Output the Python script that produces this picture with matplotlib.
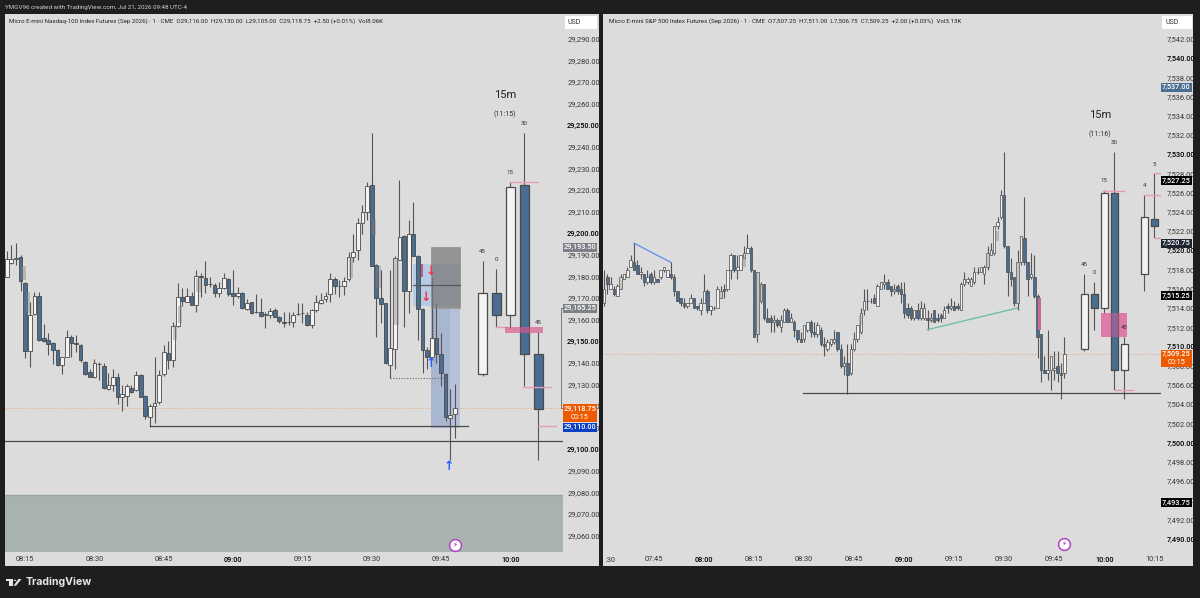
import numpy as np
import matplotlib.pyplot as plt
from matplotlib.patches import Rectangle, Polygon, Circle

W, H = 1200, 598
plt.rcParams['font.family'] = ['Roboto', 'DejaVu Sans']

# minutes since midnight for the first 1m bar of each chart
nq_start = 491
es_start = 450

nq_open = [29179.75, 29186, 29187.75, 29189, 29177, 29145.5, 29162.5, 29171, 29151.25, 29150.25,
           29149, 29146, 29138.75, 29142.5, 29152, 29149, 29148, 29140.5, 29135.5, 29133.25,
           29139.25, 29138.5, 29127.75, 29129.5, 29133.5, 29124, 29124.75, 29128.25, 29127.25, 29134.25,
           29124.75, 29115, 29120, 29121.75, 29134.5, 29144.5, 29141.25, 29157, 29170.25, 29168.25,
           29171, 29166.75, 29180, 29179.25, 29176.5, 29176, 29172.25, 29174.75, 29178.75, 29172,
           29170.75, 29172.25, 29165, 29168, 29163.5, 29163.5, 29162, 29162.25, 29164.25, 29161,
           29158.75, 29158.75, 29159, 29162.5, 29162.75, 29162.25, 29157.5, 29164.25, 29167.5, 29169.25,
           29171.75, 29178.5, 29175.5, 29175.5, 29178.5, 29188.75, 29192, 29204.5, 29209.5, 29222,
           29185, 29170, 29167.5, 29139, 29146.5, 29187.5, 29198.75, 29173.25, 29199.75, 29189.5,
           29165, 29145.75, 29142.5, 29151.25, 29143.75, 29134.75, 29114.25, 29116]
nq_high = [29191.75, 29194.5, 29195.25, 29190, 29177.5, 29168.25, 29172.75, 29172.75, 29157.75, 29153.5,
           29149.75, 29146.5, 29142.75, 29155, 29152.75, 29152.75, 29148.5, 29140.75, 29137.25, 29141.5,
           29140.5, 29140, 29135, 29137, 29135, 29129.5, 29130, 29129.5, 29136.25, 29134.5,
           29125, 29120.75, 29142.75, 29136.5, 29148, 29150, 29159, 29177, 29174.5, 29174.5,
           29172.75, 29182.75, 29181.25, 29187, 29179.75, 29176.75, 29177.5, 29181.25, 29179.25, 29183,
           29175, 29172.75, 29169.25, 29168.25, 29171.75, 29169.75, 29163.5, 29165.5, 29165.5, 29161.5,
           29163.5, 29163.5, 29163.5, 29167.5, 29167.75, 29163.5, 29165, 29171.25, 29172, 29172.75,
           29181.25, 29179.75, 29178.25, 29179.75, 29191.25, 29199.75, 29206.75, 29213, 29223.75, 29246.5,
           29185.5, 29183, 29167.75, 29183, 29189.25, 29224.5, 29199, 29206.25, 29214.5, 29189.75,
           29165.5, 29147, 29179.75, 29167.75, 29153.5, 29135, 29128, 29130]
nq_low = [29179.75, 29185.5, 29185.25, 29173.25, 29142, 29137.75, 29162, 29150, 29149.75, 29143.5,
          29139.5, 29138.5, 29134.5, 29142.5, 29142.75, 29145, 29140.5, 29134.25, 29133.25, 29132.75,
          29132, 29128, 29127.25, 29127, 29120.75, 29117.75, 29120, 29126, 29126.75, 29124,
          29113.75, 29110.25, 29112, 29121, 29134, 29137.25, 29138, 29156.5, 29166, 29168,
          29166.5, 29163.5, 29170.5, 29172, 29175, 29170.5, 29170.5, 29174, 29170.75, 29166.5,
          29169.75, 29165, 29164.25, 29162.5, 29162.75, 29161, 29156, 29160.5, 29161, 29158.25,
          29156.5, 29157.5, 29156.5, 29162, 29158.25, 29157, 29156, 29163.5, 29167, 29168.25,
          29168.25, 29171.75, 29170.5, 29171.25, 29178, 29186.75, 29187.5, 29199.75, 29206.25, 29184.5,
          29152, 29158.25, 29139.25, 29132.75, 29137.25, 29187.5, 29156.5, 29162.75, 29189.25, 29150.5,
          29135, 29137, 29142.5, 29139.75, 29129, 29112.75, 29095, 29105]
nq_close = [29188, 29187.75, 29188.5, 29178, 29145.25, 29162.25, 29171, 29150.5, 29150, 29148.75,
            29146, 29138.75, 29142.5, 29151.75, 29149.25, 29148.75, 29141, 29134.75, 29133.5, 29140,
            29139.25, 29128.25, 29129.5, 29133.5, 29124.25, 29125.25, 29129, 29126.5, 29134.25, 29124.25,
            29115.25, 29120, 29121.5, 29134.25, 29144.75, 29141.25, 29157, 29170.25, 29168.5, 29170.75,
            29166.75, 29180.25, 29179.75, 29176, 29176.25, 29172.25, 29174.75, 29179.25, 29171.75, 29171,
            29172.25, 29165.5, 29167.5, 29162.75, 29163.25, 29161.75, 29162.5, 29164, 29161.25, 29159.25,
            29158.5, 29158.75, 29162.25, 29162.5, 29162.75, 29157.5, 29164.25, 29168, 29168.75, 29171,
            29178.5, 29175.5, 29175.5, 29178, 29189, 29191, 29204.75, 29209.5, 29221.75, 29184.75,
            29170, 29167, 29139.75, 29146.75, 29188.25, 29198.25, 29173.25, 29199.75, 29189.5, 29165,
            29145.75, 29142.75, 29151.25, 29143.75, 29135, 29115, 29115.75, 29118.75]

es_open = [7514.5, 7517.25, 7516, 7516, 7515.25, 7516, 7517, 7517.25, 7518.25, 7518.75,
           7518.5, 7517.5, 7517.5, 7516.75, 7517.5, 7516.75, 7517, 7517.25, 7518, 7517.25,
           7517.5, 7517.25, 7515.75, 7515, 7514.5, 7514.25, 7514.5, 7515, 7514.25, 7513.75,
           7514.5, 7515.75, 7513.75, 7514, 7514, 7515, 7516, 7516, 7518, 7519.5,
           7518, 7518, 7519.25, 7519.75, 7520.25, 7518, 7511.25, 7514.75, 7516.5, 7513,
           7513, 7512.5, 7512.75, 7512, 7512.5, 7513.75, 7512.5, 7512.5, 7511.75, 7510.75,
           7510.75, 7511.75, 7512.5, 7511.5, 7511.25, 7511.75, 7510.25, 7509.75, 7510.25, 7510.5,
           7511.5, 7509.75, 7508, 7508.25, 7507.25, 7509.75, 7510.75, 7511.5, 7513.75, 7514.75,
           7514.75, 7515, 7514.25, 7516, 7516.5, 7516.75, 7516.25, 7515.75, 7516.25, 7516,
           7515.5, 7514, 7514, 7513, 7513.75, 7513, 7513, 7513, 7512.75, 7513.75,
           7513, 7513.25, 7513, 7514.25, 7514, 7514.25, 7514.25, 7513.75, 7516.5, 7516.75,
           7516.25, 7516.75, 7517.75, 7517.75, 7517.5, 7518.25, 7519.5, 7519.75, 7522.5, 7523.5,
           7525.75, 7520.5, 7517.75, 7517.25, 7514.5, 7518.75, 7521.25, 7518.75, 7517.25, 7517.25,
           7515.25, 7511.25, 7507.5, 7507.25, 7507.5, 7507.5, 7508, 7507.25, 7507.25]
es_high = [7518, 7517.5, 7517.25, 7516.25, 7516.5, 7517.5, 7517.5, 7518.25, 7519.5, 7520.75,
           7519, 7518.25, 7517.5, 7518, 7517.75, 7518, 7517, 7518, 7518.25, 7518,
           7518.75, 7517.5, 7515.75, 7515, 7515, 7514.5, 7515.5, 7515, 7514.25, 7515,
           7517.5, 7516, 7514.25, 7514.25, 7516.25, 7516.25, 7516.5, 7518, 7519.75, 7519.5,
           7519.5, 7519.5, 7520.5, 7521.75, 7520.5, 7518, 7517.75, 7516.75, 7516.5, 7514,
           7513.25, 7513.25, 7513, 7513.25, 7514, 7514, 7513.5, 7512.75, 7511.75, 7511.5,
           7512.25, 7512.5, 7512.75, 7512.5, 7512.5, 7512, 7511, 7510.75, 7510.75, 7511.75,
           7511.5, 7510.25, 7509, 7510.25, 7510.25, 7511.5, 7512.25, 7514, 7516, 7516,
           7515, 7515.5, 7516.5, 7516.75, 7517.5, 7517, 7516.25, 7516.5, 7516.5, 7516.75,
           7516.75, 7514.5, 7514.25, 7513.75, 7514.5, 7514.75, 7514.5, 7513.75, 7513.5, 7513.75,
           7513.5, 7513.5, 7514.25, 7514.5, 7515, 7514.75, 7514.5, 7516.75, 7517.75, 7517.25,
           7517.25, 7518.25, 7518.25, 7518.25, 7518.5, 7520.5, 7520.75, 7522.5, 7523.5, 7526.25,
           7530.25, 7520.5, 7519.25, 7517.25, 7520, 7521.5, 7525.5, 7518.75, 7519.75, 7519.5,
           7515.5, 7511.25, 7509, 7511.75, 7509, 7509.5, 7509.5, 7508.25, 7511]
es_low = [7514.25, 7515.5, 7516, 7515.25, 7515.25, 7516, 7517, 7517.25, 7518.25, 7518,
          7517.5, 7517, 7516.25, 7516.5, 7516.5, 7516.5, 7516.75, 7517, 7517.75, 7517.25,
          7517, 7515.25, 7514.75, 7514.25, 7514, 7514, 7514.5, 7514, 7513.75, 7513.25,
          7514.5, 7513.5, 7513.25, 7513.75, 7514, 7515, 7515, 7515.75, 7517, 7517.75,
          7517, 7518, 7519.25, 7519.75, 7517.75, 7511, 7510.5, 7514.5, 7512.75, 7512.5,
          7511.5, 7511.5, 7512, 7511.5, 7512.5, 7512.5, 7512.5, 7511, 7510.5, 7510.5,
          7510.5, 7511.5, 7511, 7511, 7511, 7510, 7509, 7509.5, 7510, 7510.25,
          7509.5, 7507.75, 7507, 7505, 7507, 7509.5, 7510.5, 7511.25, 7513.25, 7513.75,
          7514.5, 7514.5, 7514.25, 7516, 7516, 7516, 7515.25, 7515.5, 7515.5, 7514.5,
          7513, 7513, 7512.75, 7512.75, 7512.75, 7512.75, 7512.75, 7511.75, 7512.5, 7512.5,
          7512.5, 7512.5, 7513, 7513.5, 7513.75, 7513.75, 7513.75, 7513.75, 7516.25, 7516.5,
          7516.25, 7516.5, 7517.5, 7517.75, 7516.5, 7518, 7519.5, 7519.5, 7522.25, 7523.25,
          7520.25, 7515.25, 7516.25, 7514.25, 7513.75, 7518.5, 7518.5, 7515.25, 7517, 7515,
          7508.75, 7506.25, 7507.25, 7506.5, 7505.5, 7506.5, 7506.25, 7504.5, 7506.75]
es_close = [7516, 7516.5, 7516.5, 7515.5, 7516.25, 7517.25, 7517.5, 7518, 7519, 7518,
            7517.5, 7517.75, 7516.75, 7517.25, 7516.75, 7517.25, 7516.75, 7518, 7518.25, 7518,
            7517.25, 7515.75, 7514.75, 7514.5, 7514.25, 7514.5, 7515, 7514, 7514, 7514.5,
            7515.75, 7513.75, 7514.25, 7514, 7516, 7515.75, 7515.75, 7518, 7519.5, 7518,
            7518.25, 7519.5, 7519.75, 7520.25, 7518, 7511, 7517.75, 7516.5, 7513, 7512.5,
            7512.5, 7512.75, 7512.25, 7512.75, 7513.75, 7512.5, 7513, 7511.75, 7510.75, 7510.5,
            7512.25, 7512.5, 7511.5, 7511.25, 7512.25, 7510.25, 7510, 7510.5, 7510.75, 7510.75,
            7509.75, 7508, 7508.25, 7507, 7509.75, 7510.75, 7512.25, 7513.5, 7514.75, 7514.75,
            7514.75, 7514.5, 7516.25, 7516.75, 7516.75, 7516, 7515.75, 7516, 7515.75, 7515.5,
            7513.5, 7513.25, 7513, 7513.75, 7513, 7514, 7514, 7512.75, 7513, 7512.5,
            7512.75, 7513, 7513.75, 7514, 7514.25, 7513.75, 7514, 7516.5, 7517, 7517,
            7517, 7517.75, 7517.75, 7518.25, 7518.25, 7519.75, 7520, 7522.5, 7523, 7525.75,
            7520.5, 7517.75, 7517, 7514.5, 7518.75, 7521.5, 7518.75, 7517, 7517.5, 7515.25,
            7511, 7507.5, 7507.25, 7507.5, 7509, 7507.75, 7507.25, 7507, 7509.25]

# 15m candles beside the 1m bars, slot number counted from the first one
htf_first = 594
htf_step = 3
nq_htf_slot = [0, 1, 2, 3, 4]
nq_htf_open = [29134.5, 29172, 29162.25, 29222, 29143.75]
nq_htf_high = [29187.25, 29183.25, 29223.75, 29246.5, 29154]
nq_htf_low = [29133.75, 29156.25, 29156, 29129, 29095]
nq_htf_close = [29172, 29162.25, 29221.5, 29143.75, 29118.5]
nq_htf_labels = ['45', '0', '15', '30', '45']

es_htf_slot = [0, 1, 2, 3, 4, 6, 7]
es_htf_open = [7509.75, 7515.5, 7514, 7526, 7507.5, 7517.5, 7523.25]
es_htf_high = [7517.5, 7516.75, 7526.25, 7530.25, 7511, 7525.75, 7528]
es_htf_low = [7509.5, 7511.75, 7513.5, 7505.5, 7504.5, 7515.75, 7521.25]
es_htf_close = [7515.5, 7514, 7526, 7507.5, 7510.25, 7523.5, 7522.5]
es_htf_labels = ['45', '0', '15', '30', '45', '4', '5']

# grey shaded strips over some 1m bars: minute, top, bottom
nq_strips = [(494.6, 29184.75, 29178.25), (495.6, 29172.75, 29162.75), (527.4, 29157.5, 29150.5),
             (528.5, 29166, 29158.25), (532.5, 29179, 29172.75), (565.5, 29189, 29179),
             (570.5, 29206.5, 29199), (571.5, 29184.5, 29174.5), (575.4, 29188.25, 29157.5)]
es_strips = [(455, 7517, 7516), (485, 7515.75, 7515), (492, 7519.5, 7518.25), (496, 7517.75, 7511.25),
             (497, 7516.5, 7514.75), (527, 7513.25, 7512.25), (565, 7519.75, 7518.25),
             (568, 7522, 7521), (574, 7518.75, 7514.5)]

nq_yticks = list(range(29060, 29300, 10))
es_yticks = list(range(7490, 7544, 2))
nq_xticks = [495, 510, 525, 540, 555, 570, 585, 600]
es_xticks = [465, 480, 495, 510, 525, 540, 555, 570, 585, 600, 615]

BLUE = '#4a6e91'
WHITE = '#f3f3f3'
EDGE = '#4a4a4a'
PINK = '#e79ab3'
PANEL = '#dcdcdc'
DARK = '#1e1e1e'


def px_box(x0, y0, x1, y1):
    # figure fractions of a box given in image pixels
    return [x0 / W, 1 - y1 / H, (x1 - x0) / W, (y1 - y0) / H]


def draw_candles(ax, x, o, h, l, c, width, lw=0.6):
    x, o, h, l, c = [np.asarray(v, dtype=float) for v in (x, o, h, l, c)]
    up = c >= o
    ax.vlines(x, l, h, color='#555555', lw=0.8, zorder=4)
    ax.bar(x[up], (c - o)[up], width, bottom=o[up], facecolor=WHITE, edgecolor=EDGE, linewidth=lw, zorder=5)
    ax.bar(x[~up], (c - o)[~up], width, bottom=o[~up], facecolor=BLUE, edgecolor=EDGE, linewidth=lw, zorder=5)


def draw_strips(ax, strips):
    for minute, top, bottom in strips:
        ax.add_patch(Rectangle((minute - 0.5, bottom), 1.0, top - bottom, facecolor='#808080',
                               alpha=0.4, edgecolor='none', zorder=6))


def price_tag(ax, price, text, color, x0, x1, second=None):
    # price label on the axis scale; x0, x1 in image pixels
    box = ax.get_position()
    ax_x0, ax_w = box.x0 * W, box.width * W
    f0, f1 = (x0 - ax_x0) / ax_w, (x1 - ax_x0) / ax_w
    lo, hi = ax.get_ylim()
    per_px = (hi - lo) / (box.height * H)
    trans = ax.get_yaxis_transform()
    below = 13.5 if second else 4.5
    above = 4.0 if second else 4.5
    ax.add_patch(Rectangle((f0, price - below * per_px), f1 - f0, (below + above) * per_px, transform=trans,
                           facecolor=color, edgecolor='none', clip_on=False, zorder=20))
    ax.text((f0 + f1) / 2, price, text, transform=trans, color='white', fontsize=5.3, ha='center', va='center',
            fontweight='medium', clip_on=False, zorder=21)
    if second:
        ax.text((f0 + f1) / 2, price - 9 * per_px, second, transform=trans, color='white', fontsize=5.2,
                ha='center', va='center', clip_on=False, zorder=21)


def setup_axes(ax, xlim, ylim, yticks, bold_every, fmt, xticks, xpad):
    ax.set_xlim(*xlim)
    ax.set_ylim(*ylim)
    ax.set_facecolor(PANEL)
    for s in ax.spines.values():
        s.set_visible(False)
    ax.yaxis.tick_right()
    ax.set_yticks(yticks)
    ax.set_yticklabels([fmt.format(t) for t in yticks], fontsize=5.3, color='#333333')
    ax.tick_params(axis='y', length=0, pad=xpad)
    for label, t in zip(ax.get_yticklabels(), yticks):
        if t % bold_every == 0:
            label.set_fontweight('medium')
            label.set_color('#000000')
    ax.set_xticks(xticks)
    ax.set_xticklabels(['%02d:%02d' % (t // 60, t % 60) for t in xticks], fontsize=5.3, color='#333333')
    ax.tick_params(axis='x', length=0, pad=3)
    for label, t in zip(ax.get_xticklabels(), xticks):
        if t % 60 == 0:
            label.set_fontweight('medium')
            label.set_color('#000000')


def flash_icon(ax, x, y):
    ax.plot([x], [y], marker='o', ms=8.5, mfc='white', mec='#b044c8', mew=1.1, zorder=15, clip_on=False)
    ax.text(x, y, '\u26a1', fontsize=5, color='#8e24aa', ha='center', va='center', zorder=16,
            family='DejaVu Sans')


fig = plt.figure(figsize=(W / 100, H / 100), dpi=100, facecolor=DARK)

for box in (px_box(5, 14, 599, 566), px_box(603, 14, 1193, 566)):
    fig.add_artist(Rectangle((box[0], box[1]), box[2], box[3], transform=fig.transFigure,
                             facecolor=PANEL, edgecolor='none', zorder=-1))

# ---- left chart
ax1 = fig.add_axes(px_box(5, 14, 563, 552))
setup_axes(ax1, (490.63, 611.4), (29052.3, 29301.4), nq_yticks, 50, '{:,.2f}', nq_xticks, 3)

ax1.axhspan(29052.3, 29078.5, facecolor='#a8b3b0', edgecolor='none', zorder=1)
ax1.axhline(29078.5, color='#9aa6a2', lw=1, zorder=1)
ax1.axhline(29118.75, color='#e8a070', lw=0.7, ls=(0, (1, 2)), zorder=2)
ax1.add_patch(Rectangle((579, 29166.25), 10, 19.4, facecolor='#a9c4ea', alpha=0.7, edgecolor='none', zorder=2))
ax1.add_patch(Rectangle((582.9, 29109.5), 6.1, 55.3, facecolor='#b7c2da', edgecolor='none', zorder=2))
ax1.add_patch(Rectangle((582.9, 29109.5), 4.1, 55.3, facecolor='#a9b6d2', edgecolor='none', zorder=2))
ax1.add_patch(Rectangle((580.3, 29179.5), 0.7, 6.1, facecolor='#b5608c', edgecolor='none', zorder=3))

nq_x = nq_start + np.arange(len(nq_open))
draw_candles(ax1, nq_x, nq_open, nq_high, nq_low, nq_close, 0.8)
draw_strips(ax1, nq_strips)
ax1.add_patch(Rectangle((582.9, 29165.25), 6.1, 28.25, facecolor='#777777', alpha=0.72, edgecolor='#808080',
                        lw=0.5, zorder=7))
ax1.plot([579, 589], [29176, 29176], color='#55595e', lw=0.9, zorder=8)

ax1.plot([522, 590.9], [29110.5, 29110.5], color='#4a4a4a', lw=0.9, zorder=7)
ax1.axhline(29103.9, color='#4a4a4a', lw=0.9, zorder=7)
ax1.plot([574, 586.5], [29132.75, 29132.75], color='#666666', lw=0.8, ls=(0, (1, 1.5)), zorder=8)
ax1.plot([583.3, 583.3], [29152, 29164.25], color='#7a7f8c', lw=0.8, ls=(0, (1, 1.5)), zorder=8)
ax1.plot([611.4, 610.9, 610.9, 611.4], [29165.25, 29165.25, 29118.75, 29118.75], color='#777777', lw=0.7,
         clip_on=False, zorder=8)

nq_htf_x = [htf_first + htf_step * s for s in nq_htf_slot]
draw_candles(ax1, nq_htf_x, nq_htf_open, nq_htf_high, nq_htf_low, nq_htf_close, 1.95, lw=0.9)
for x, top, txt in zip(nq_htf_x, nq_htf_high, nq_htf_labels):
    ax1.annotate(txt, (x, top), xytext=(0, 5), textcoords='offset points', ha='center', va='bottom',
                 fontsize=4.4, color='#333333', zorder=12)
ax1.text(598.9, 29263.9, '15m', fontsize=8, ha='center', va='center', color='#222222', zorder=12)
ax1.text(598.9, 29255, '(11:15)', fontsize=5, ha='center', va='center', color='#333333', zorder=12)

for x0, x1, y in [(600, 605.9, 29223.75), (597, 599, 29156.25), (602.8, 608.8, 29128.5), (605.9, 609.8, 29110.5)]:
    ax1.plot([x0, x1], [y, y], color=PINK, lw=1, zorder=9)
ax1.add_patch(Rectangle((598.9, 29153.5), 8.1, 2.75, facecolor='#d9548a', alpha=0.65, edgecolor='none', zorder=9))

for x, y, s, col in [(582.9, 29182.4, '\u2193', '#f23645'), (581.8, 29170.2, '\u2193', '#f23645'),
                     (582.9, 29139.7, '\u2191', '#2962ff'), (586.8, 29091.8, '\u2191', '#2962ff')]:
    ax1.text(x, y, s, color=col, fontsize=9, fontweight='bold', ha='center', va='center', zorder=13,
             family='DejaVu Sans')
flash_icon(ax1, 588, 29055.6)

price_tag(ax1, 29193.5, '29,193.50', '#7d8087', 563, 597)
price_tag(ax1, 29165.25, '29,165.25', '#7d8087', 563, 597)
price_tag(ax1, 29118.75, '29,118.75', '#ee5a00', 563, 597, second='00:15')
price_tag(ax1, 29110, '29,110.00', '#0b3fc4', 563, 597)

# ---- right chart
ax2 = fig.add_axes(px_box(603, 14, 1161, 552))
setup_axes(ax2, (449.7, 617), (7488.6, 7544.6), es_yticks, 10, '{:,.2f}', es_xticks, 4)
ax2.text(450.4, -0.0095, ':30', transform=ax2.get_xaxis_transform(), fontsize=5.3, color='#333333',
         ha='left', va='top', clip_on=False)

ax2.axhline(7509.25, color='#e8a070', lw=0.7, ls=(0, (1, 2)), zorder=2)
es_x = es_start + np.arange(len(es_open))
draw_candles(ax2, es_x, es_open, es_high, es_low, es_close, 0.75, lw=0.5)
draw_strips(ax2, es_strips)
ax2.add_patch(Rectangle((580.2, 7511.75), 0.8, 3.25, facecolor='#c86a96', edgecolor='none', zorder=7))

ax2.plot([509.7, 617], [7505.1, 7505.1], color='#4a4a4a', lw=0.9, zorder=7)
ax2.plot([459, 470], [7520.75, 7518.75], color='#5b8def', lw=0.9, zorder=7)
ax2.plot([547, 574], [7511.75, 7514], color='#5fbfa5', lw=0.9, zorder=7)

es_htf_x = [htf_first + htf_step * s for s in es_htf_slot]
ax2.add_patch(Rectangle((598.9, 7511), 8, 2.5, facecolor='#e0609a', alpha=0.6, edgecolor='none', zorder=3))
draw_candles(ax2, es_htf_x, es_htf_open, es_htf_high, es_htf_low, es_htf_close, 2.1, lw=0.9)
ax2.add_patch(Rectangle((598.9, 7511), 8, 2.5, facecolor='#e0609a', alpha=0.45, edgecolor='none', zorder=8))
for x, top, txt in zip(es_htf_x, es_htf_high, es_htf_labels):
    ax2.annotate(txt, (x, top), xytext=(0, 5), textcoords='offset points', ha='center', va='bottom',
                 fontsize=4.4, color='#333333', zorder=12)
ax2.text(598.7, 7534.1, '15m', fontsize=8, ha='center', va='center', color='#222222', zorder=12)
ax2.text(598.7, 7532.1, '(11:16)', fontsize=5, ha='center', va='center', color='#333333', zorder=12)

for x0, x1, y in [(599.7, 605.9, 7526.2), (603, 608.7, 7505.5), (612, 617, 7525.75), (615, 617, 7528), (615, 617, 7521.25)]:
    ax2.plot([x0, x1], [y, y], color=PINK, lw=1, zorder=9)
flash_icon(ax2, 588, 7489.4)

price_tag(ax2, 7537, '7,537.00', BLUE, 1161, 1192)
price_tag(ax2, 7527.25, '7,527.25', '#000000', 1161, 1192)
price_tag(ax2, 7520.75, '7,520.75', '#1e2530', 1161, 1192)
price_tag(ax2, 7515.25, '7,515.25', '#000000', 1161, 1192)
price_tag(ax2, 7509.25, '7,509.25', '#ee5a00', 1161, 1192, second='00:15')
price_tag(ax2, 7493.75, '7,493.75', '#000000', 1161, 1192)

# ---- text and boxes outside the charts
for x0, x1, tx in [(565, 597, 574.5), (1162, 1192, 1172)]:
    box = px_box(x0, 16, x1, 29)
    fig.add_artist(Rectangle((box[0], box[1]), box[2], box[3], transform=fig.transFigure,
                             facecolor='white', edgecolor='none', zorder=5))
    fig.text(tx / W, 1 - 23 / H, 'USD', fontsize=5, color='#333333', ha='center', va='center', zorder=6)

fig.text(5 / W, 1 - 7.5 / H, 'YMGV96 created with TradingView.com, Jul 21, 2026 09:48 UTC-4', fontsize=4.5,
         color='#cfcfcf', va='center')
fig.text(9 / W, 1 - 21.5 / H, 'Micro E-mini Nasdaq-100 Index Futures (Sep 2026) \u00b7 1 \u00b7 CME  O29,116.00  H29,130.00  '
         'L29,105.00  C29,118.75  +2.50 (+0.01%)  Vol8.06K', fontsize=4.45, color='#222222', va='center', zorder=6)
fig.text(609 / W, 1 - 21.5 / H, 'Micro E-mini S&P 500 Index Futures (Sep 2026) \u00b7 1 \u00b7 CME  O7,507.25  H7,511.00  '
         'L7,506.75  C7,509.25  +2.00 (+0.03%)  Vol3.13K', fontsize=4.5, color='#222222', va='center', zorder=6)

# TradingView mark in the footer
logo = [[(6, 579), (12.7, 579), (12.7, 585.7), (9.3, 585.7), (9.3, 581.3), (6, 581.3)],
        [(13.5, 585.7), (16, 585.7), (21.5, 579), (18.5, 579)]]
for pts in logo:
    fig.add_artist(Polygon([(x / W, 1 - y / H) for x, y in pts], closed=True, transform=fig.transFigure,
                           facecolor='#e8e8e8', edgecolor='none'))
fig.text(26 / W, 1 - 582 / H, 'TradingView', fontsize=7.6, fontweight='bold', color='#e8e8e8', va='center',
         family='Inter')
fig.add_artist(Circle((15 / W, 1 - 580.4 / H), 1.2 / W, transform=fig.transFigure, facecolor='#e8e8e8',
                      edgecolor='none'))

fig.savefig('out.png', dpi=100, facecolor=DARK)
